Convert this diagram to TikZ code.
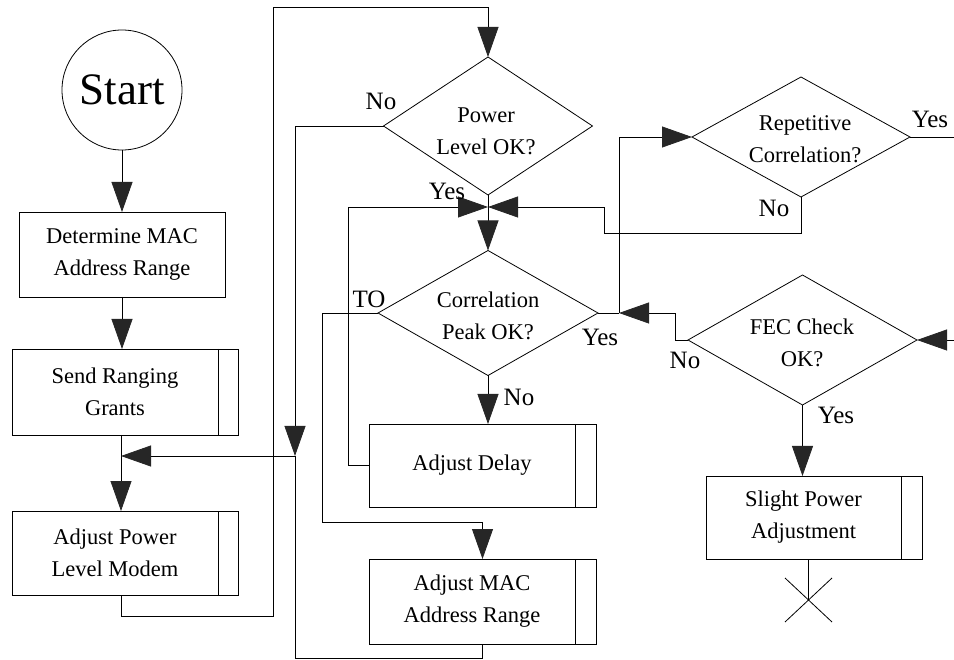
\documentclass[tikz,border=0pt]{standalone}
\usepackage{fontspec}
\setmainfont{Liberation Serif}
\newfontfamily\tms{Liberation Serif}
\usetikzlibrary{arrows.meta,shapes.geometric}
\begin{document}
\begin{tikzpicture}[x=1pt,y=-1pt,
  line width=0.8pt,
  arr/.style={-{Triangle[length=30pt,width=21pt,color=black!85]}},
  txt/.style={align=center,inner sep=0pt,font=\tms\fontsize{22.5}{32}\selectfont},
  lbl/.style={inner sep=0pt,font=\tms\fontsize{25}{28}\selectfont},
  boxn/.style={draw,rectangle,inner sep=0pt,outer sep=0pt,align=center,font=\tms\fontsize{22.5}{32}\selectfont},
  dia/.style={draw,diamond,inner sep=0pt,outer sep=0pt}]
\useasboundingbox (0,0) rectangle (954,660);

% start
\node[draw,circle,minimum size=120pt,inner sep=0pt,outer sep=0pt,font=\tms\fontsize{45}{50}\selectfont] (start) at (122,90) {Start};

% left column boxes
\node[boxn,minimum width=206pt,minimum height=85pt] (b1) at (122,254.5) {Determine MAC\\Address Range};
\node[boxn,minimum width=226pt,minimum height=86pt] (b2) at (125,392) {};
\node[txt] at (115,392) {Send Ranging\\Grants};
\draw ([xshift=-20pt]b2.north east) -- ([xshift=-20pt]b2.south east);
\node[boxn,minimum width=226pt,minimum height=84pt] (b3) at (125,553) {};
\node[txt] at (115,553) {Adjust Power\\Level Modem};
\draw ([xshift=-20pt]b3.north east) -- ([xshift=-20pt]b3.south east);

% middle column
\node[dia,minimum width=209pt,minimum height=138pt] (pw) at (488,126) {};
\node[txt] at (486,131) {Power\\Level OK?};
\node[dia,minimum width=220pt,minimum height=125pt] (cp) at (488,313) {};
\node[txt] at (488,316) {Correlation\\Peak OK?};
\node[boxn,minimum width=227pt,minimum height=83pt] (b4) at (482.5,465.5) {};
\node[txt] at (472,465.5) {Adjust Delay};
\draw ([xshift=-21pt]b4.north east) -- ([xshift=-21pt]b4.south east);
\node[boxn,minimum width=227pt,minimum height=85pt] (b5) at (482.5,601.5) {};
\node[txt] at (472,601.5) {Adjust MAC\\Address Range};
\draw ([xshift=-21pt]b5.north east) -- ([xshift=-21pt]b5.south east);

% right column
\node[dia,minimum width=218pt,minimum height=120pt] (rep) at (801,137) {};
\node[txt] at (805,139) {Repetitive\\Correlation?};
\node[dia,minimum width=229pt,minimum height=130pt] (fec) at (802.5,340) {};
\node[txt] at (802,343) {FEC Check\\OK?};
\node[boxn,minimum width=216pt,minimum height=83pt] (b6) at (814,517.5) {};
\node[txt] at (803.5,517.5) {Slight Power\\Adjustment};
\draw ([xshift=-21pt]b6.north east) -- ([xshift=-21pt]b6.south east);

% coordinates
\coordinate (m1) at (121,456);
\coordinate (j1) at (295,456);
\coordinate (lp1) at (273,616);
\coordinate (lp2) at (273,7);
\coordinate (jm) at (488,207);
\coordinate (l4) at (348,207);
\coordinate (r1) at (604,233);
\coordinate (t1) at (322,522);
\coordinate (bt) at (295,658);
\coordinate (jr) at (619,313);
\coordinate (f1) at (675,313);
\coordinate (fin) at (954,340);
\coordinate (rout) at (954,137);
\coordinate (xc) at (808.5,600);

% left column connectors
\draw[arr] (start.south) -- (start.south |- b1.north);
\draw[arr] (b1.south) -- (b1.south |- b2.north);
\draw (b2.south -| m1) -- (m1);
\draw[arr] (m1) -- (m1 |- b3.north);
\draw[arr] (b3.south -| m1) |- (lp1) -- (lp2) -| (pw.north);

% power level
\draw[arr] (pw.west) -| (j1);
\draw[arr] (j1) -- (m1);
\draw (pw.south) -- (jm);
\draw[arr] (jm) -- (cp.north);

% loops into junction
\draw[arr] (b4.west) -| (l4) -- (jm);
\draw[arr] (rep.south) |- (r1) |- (jm);

% correlation
\draw[arr] (cp.south) -- (cp.south |- b4.north);
\draw[arr] (cp.west) -| (t1) -| (b5.north);
\draw (b5.south) |- (bt) -- (j1);
\draw (cp.east) -- (jr);
\draw[arr] (jr) |- (rep.west);

% FEC
\draw[arr] (fec.west) -| (f1) -- (jr);
\draw[arr] (fin) -- (fec.east);
\draw (rep.east) -- (rout);
\draw[arr] (fec.south) -- (fec.south |- b6.north);
\draw (b6.south -| xc) -- (xc);
\draw ([shift={(-23.5,-22)}]xc) -- ([shift={(23.5,22)}]xc);
\draw ([shift={(23.5,-22)}]xc) -- ([shift={(-23.5,22)}]xc);

% labels
\node[lbl] at (381,101) {No};
\node[lbl] at (447,191) {Yes};
\node[lbl] at (369,299) {TO};
\node[lbl] at (600,337) {Yes};
\node[lbl] at (519,397) {No};
\node[lbl] at (774,208) {No};
\node[lbl] at (930,119) {Yes};
\node[lbl] at (685,360) {No};
\node[lbl] at (836,415) {Yes};
\end{tikzpicture}
\end{document}
